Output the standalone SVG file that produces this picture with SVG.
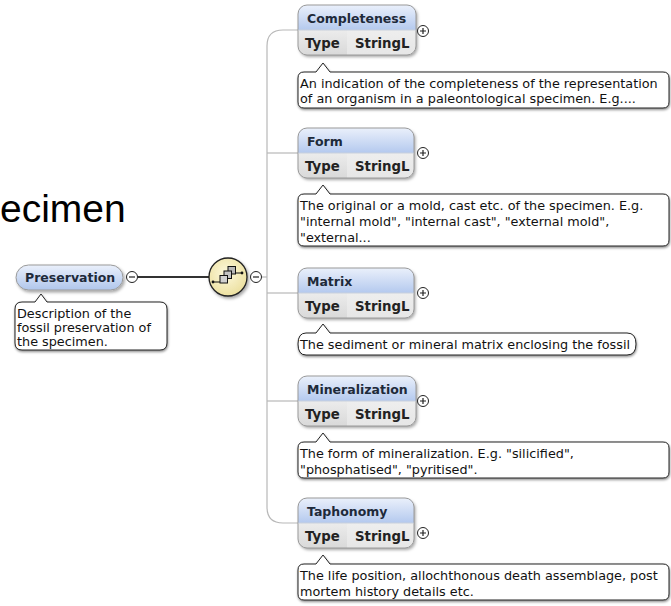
<svg xmlns="http://www.w3.org/2000/svg" width="671" height="606" viewBox="0 0 671 606">
<defs>
  <style>
    .name{font-family:"DejaVu Sans","Liberation Sans",sans-serif;font-weight:bold;font-size:12.5px;fill:#1e2a3a}
    .type{font-family:"DejaVu Sans","Liberation Sans",sans-serif;font-weight:bold;font-size:13.3px;fill:#222}
    .doc{font-family:"DejaVu Sans","Liberation Sans",sans-serif;font-size:12.8px;fill:#111}
    .big{font-family:"Liberation Sans",Arial,sans-serif;font-size:39px;fill:#000}
    .tree{fill:none;stroke:#b8b8b8;stroke-width:1.2}
    .link{fill:none;stroke:#333;stroke-width:2}
    .hdr{fill:url(#hdrG);stroke:none}
    .frame{fill:none;stroke:#9a9a9a;stroke-width:1}
    .ann{fill:#fff;stroke:#222;stroke-width:1;filter:url(#annSh)}
    .btn{fill:#fff;stroke:#222;stroke-width:1}
    .btnl{stroke:#222;stroke-width:1.2}
  </style>
  <linearGradient id="hdrG" x1="0" y1="0" x2="0" y2="1">
    <stop offset="0" stop-color="#eaf0fb"/>
    <stop offset="1" stop-color="#b4c9ee"/>
  </linearGradient>
  <linearGradient id="pillG" x1="0" y1="0" x2="0" y2="1">
    <stop offset="0" stop-color="#eaf0fb"/>
    <stop offset="1" stop-color="#b0c6ec"/>
  </linearGradient>
  <linearGradient id="typeG" x1="0" y1="0" x2="0" y2="1">
    <stop offset="0" stop-color="#ececec"/>
    <stop offset="1" stop-color="#d9d9d9"/>
  </linearGradient>
  <linearGradient id="valG" x1="0" y1="0" x2="0" y2="1">
    <stop offset="0" stop-color="#f6f6f6"/>
    <stop offset="1" stop-color="#e6e6e6"/>
  </linearGradient>
  <radialGradient id="seqG" cx="0.45" cy="0.4" r="0.6">
    <stop offset="0" stop-color="#fdf9dc"/>
    <stop offset="1" stop-color="#ece0a0"/>
  </radialGradient>
  <filter id="nodeSh" x="-10%" y="-10%" width="125%" height="140%">
    <feDropShadow dx="1.5" dy="2" stdDeviation="1.5" flood-color="#000" flood-opacity="0.35"/>
  </filter>
  <filter id="annSh" x="-5%" y="-10%" width="110%" height="140%">
    <feDropShadow dx="0.5" dy="1.5" stdDeviation="0.8" flood-color="#000" flood-opacity="0.45"/>
  </filter>
</defs>
<rect width="671" height="606" fill="#fff"/>

<text class="big" x="0" y="222">ecimen</text>

<g id="connectors">
  <path class="link" d="M137.5,277 H209"/>
  <path class="tree" d="M261.5,277 H267"/>
  <path class="tree" d="M298,30 H283 Q267,30 267,46 V507 Q267,523 283,523 H298"/>
  <path class="tree" d="M267,153 H298"/>
  <path class="tree" d="M267,293 H298"/>
  <path class="tree" d="M267,401 H298"/>
</g>

<g id="preservation">
  <rect x="16" y="265" width="107" height="25" rx="12.5" fill="url(#pillG)" stroke="#9a9a9a" filter="url(#nodeSh)"/>
  <text class="name" x="25" y="282">Preservation</text>
  <circle class="btn" cx="132" cy="277" r="5.5"/>
  <path class="btnl" d="M129,277 H135"/>
  <path class="ann" d="M22,302 H35 L41,294 L47,302 H160 Q167,302 167,309 V343 Q167,350 160,350 H22 Q15,350 15,343 V309 Q15,302 22,302 Z"/>
  <text class="doc" x="17" y="318">Description of the</text>
  <text class="doc" x="17" y="332">fossil preservation of</text>
  <text class="doc" x="17" y="346">the specimen.</text>
</g>

<g id="sequence">
  <circle cx="228" cy="277" r="19" fill="url(#seqG)" stroke="#222" stroke-width="1.3" filter="url(#nodeSh)"/>
  <path d="M213,282 H220 M235,273 H242" stroke="#111" stroke-width="1.2"/>
  <circle cx="213" cy="282" r="1.4" fill="#111"/>
  <circle cx="242" cy="273" r="1.4" fill="#111"/>
  <rect x="228" y="266.5" width="7.5" height="7.5" fill="#b8b8b8" stroke="#111" stroke-width="1"/>
  <rect x="224" y="271" width="7.5" height="7.5" fill="#c4c4c4" stroke="#111" stroke-width="1"/>
  <rect x="220" y="275.5" width="7.5" height="7.5" fill="#d0d0d0" stroke="#111" stroke-width="1"/>
  <circle class="btn" cx="256" cy="277" r="5.5"/>
  <path class="btnl" d="M253,277 H259"/>
</g>

<g id="completeness" transform="translate(298,5)">
  <rect x="0" y="0" width="118" height="50" rx="9" fill="url(#valG)" filter="url(#nodeSh)"/>
  <path d="M0,25 V9 Q0,0 9,0 H109 Q118,0 118,9 V25 Z" class="hdr"/>
  <path d="M0,25 V41 Q0,50 9,50 H49 V25 Z" fill="url(#typeG)"/>
  <rect x="0" y="0" width="118" height="50" rx="9" class="frame"/>
  <path d="M0.5,25 H117.5" stroke="#c8d0dc" stroke-width="1"/>
  <text class="name" x="9" y="18">Completeness</text>
  <text class="type" x="7" y="43">Type</text>
  <text class="type" x="57" y="43">StringL</text>
  <circle class="btn" cx="125" cy="26" r="5.5"/>
  <path class="btnl" d="M122,26 H128 M125,23 V29"/>
</g>
<g id="completeness-doc">
  <path class="ann" d="M304,72 H316 L323,63 L330,72 H663 Q669,72 669,78 V102 Q669,108 663,108 H304 Q298,108 298,102 V78 Q298,72 304,72 Z"/>
  <text class="doc" x="300" y="88">An indication of the completeness of the representation</text>
  <text class="doc" x="300" y="103">of an organism in a paleontological specimen. E.g....</text>
</g>

<g id="form" transform="translate(298,128)">
  <rect x="0" y="0" width="116" height="50" rx="9" fill="url(#valG)" filter="url(#nodeSh)"/>
  <path d="M0,25 V9 Q0,0 9,0 H107 Q116,0 116,9 V25 Z" class="hdr"/>
  <path d="M0,25 V41 Q0,50 9,50 H49 V25 Z" fill="url(#typeG)"/>
  <rect x="0" y="0" width="116" height="50" rx="9" class="frame"/>
  <path d="M0.5,25 H115.5" stroke="#c8d0dc" stroke-width="1"/>
  <text class="name" x="9" y="18">Form</text>
  <text class="type" x="7" y="43">Type</text>
  <text class="type" x="57" y="43">StringL</text>
  <circle class="btn" cx="125" cy="25" r="5.5"/>
  <path class="btnl" d="M122,25 H128 M125,22 V28"/>
</g>
<g id="form-doc">
  <path class="ann" d="M304,194 H316 L323,185 L330,194 H663 Q669,194 669,200 V240 Q669,246 663,246 H304 Q298,246 298,240 V200 Q298,194 304,194 Z"/>
  <text class="doc" x="300" y="210">The original or a mold, cast etc. of the specimen. E.g.</text>
  <text class="doc" x="300" y="226">"internal mold", "internal cast", "external mold",</text>
  <text class="doc" x="300" y="242">"external...</text>
</g>

<g id="matrix" transform="translate(298,268)">
  <rect x="0" y="0" width="116" height="50" rx="9" fill="url(#valG)" filter="url(#nodeSh)"/>
  <path d="M0,25 V9 Q0,0 9,0 H107 Q116,0 116,9 V25 Z" class="hdr"/>
  <path d="M0,25 V41 Q0,50 9,50 H49 V25 Z" fill="url(#typeG)"/>
  <rect x="0" y="0" width="116" height="50" rx="9" class="frame"/>
  <path d="M0.5,25 H115.5" stroke="#c8d0dc" stroke-width="1"/>
  <text class="name" x="9" y="18">Matrix</text>
  <text class="type" x="7" y="43">Type</text>
  <text class="type" x="57" y="43">StringL</text>
  <circle class="btn" cx="125" cy="25" r="5.5"/>
  <path class="btnl" d="M122,25 H128 M125,22 V28"/>
</g>
<g id="matrix-doc">
  <path class="ann" d="M306,333 H316 L323,324 L330,333 H627 Q636,333 636,344 Q636,355 627,355 H306 Q298,355 298,344 Q298,333 306,333 Z"/>
  <text class="doc" x="300" y="349">The sediment or mineral matrix enclosing the fossil</text>
</g>

<g id="mineralization" transform="translate(298,376)">
  <rect x="0" y="0" width="118" height="50" rx="9" fill="url(#valG)" filter="url(#nodeSh)"/>
  <path d="M0,25 V9 Q0,0 9,0 H109 Q118,0 118,9 V25 Z" class="hdr"/>
  <path d="M0,25 V41 Q0,50 9,50 H49 V25 Z" fill="url(#typeG)"/>
  <rect x="0" y="0" width="118" height="50" rx="9" class="frame"/>
  <path d="M0.5,25 H117.5" stroke="#c8d0dc" stroke-width="1"/>
  <text class="name" x="9" y="18">Mineralization</text>
  <text class="type" x="7" y="43">Type</text>
  <text class="type" x="57" y="43">StringL</text>
  <circle class="btn" cx="125" cy="25" r="5.5"/>
  <path class="btnl" d="M122,25 H128 M125,22 V28"/>
</g>
<g id="mineralization-doc">
  <path class="ann" d="M304,442 H316 L323,433 L330,442 H663 Q669,442 669,448 V472 Q669,478 663,478 H304 Q298,478 298,472 V448 Q298,442 304,442 Z"/>
  <text class="doc" x="300" y="458">The form of mineralization. E.g. "silicified",</text>
  <text class="doc" x="300" y="474">"phosphatised", "pyritised".</text>
</g>

<g id="taphonomy" transform="translate(298,498)">
  <rect x="0" y="0" width="116" height="50" rx="9" fill="url(#valG)" filter="url(#nodeSh)"/>
  <path d="M0,25 V9 Q0,0 9,0 H107 Q116,0 116,9 V25 Z" class="hdr"/>
  <path d="M0,25 V41 Q0,50 9,50 H49 V25 Z" fill="url(#typeG)"/>
  <rect x="0" y="0" width="116" height="50" rx="9" class="frame"/>
  <path d="M0.5,25 H115.5" stroke="#c8d0dc" stroke-width="1"/>
  <text class="name" x="9" y="18">Taphonomy</text>
  <text class="type" x="7" y="43">Type</text>
  <text class="type" x="57" y="43">StringL</text>
  <circle class="btn" cx="125" cy="35" r="5.5"/>
  <path class="btnl" d="M122,35 H128 M125,32 V38"/>
</g>
<g id="taphonomy-doc">
  <path class="ann" d="M304,564 H316 L323,555 L330,564 H663 Q669,564 669,570 V594 Q669,600 663,600 H304 Q298,600 298,594 V570 Q298,564 304,564 Z"/>
  <text class="doc" x="300" y="580">The life position, allochthonous death assemblage, post</text>
  <text class="doc" x="300" y="596">mortem history details etc.</text>
</g>
</svg>
